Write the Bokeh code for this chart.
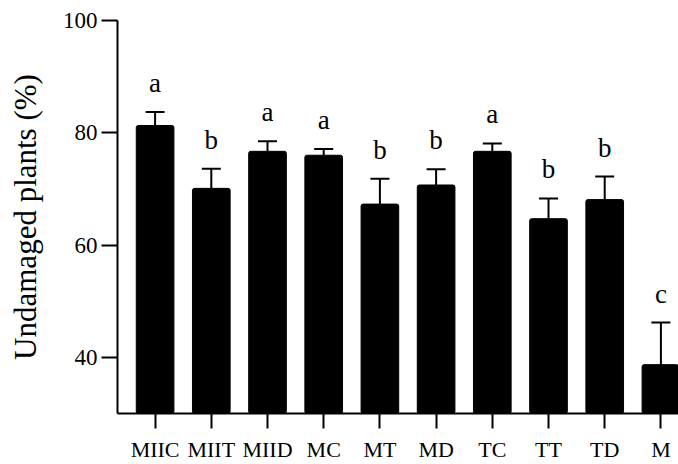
from bokeh.plotting import figure
from bokeh.models import FixedTicker, Whisker, ColumnDataSource, TeeHead, Range1d
from bokeh.core.properties import value
from bokeh.embed import file_html
from bokeh.resources import INLINE

categories = ["MIIC", "MIIT", "MIID", "MC", "MT", "MD", "TC", "TT", "TD", "M"]
means = [81.3, 70.1, 76.7, 76.0, 67.3, 70.7, 76.7, 64.7, 68.1, 38.7]
errors = [2.4, 3.5, 1.8, 1.1, 4.5, 2.8, 1.4, 3.6, 4.1, 7.5]
letters = ["a", "b", "a", "a", "b", "b", "a", "b", "b", "c"]
y_ticks = [40, 60, 80, 100]

FONT = "Liberation Serif"

xs = list(range(len(categories)))
upper = [m + e for m, e in zip(means, errors)]
src = ColumnDataSource(dict(x=xs, mean=means, upper=upper, letter=letters))

p = figure(width=678, height=464,
           x_range=Range1d(-0.669, 9.313), y_range=Range1d(30, 100),
           output_backend="svg", toolbar_location=None,
           min_border_left=117, min_border_right=0,
           min_border_top=20, min_border_bottom=51)
p.outline_line_color = None
p.xgrid.grid_line_color = None
p.ygrid.grid_line_color = None
p.background_fill_color = "white"
p.border_fill_color = "white"

p.vbar(x="x", top="mean", bottom=0, width=0.67, source=src,
       fill_color="black", line_color="black", border_radius=2)

w = Whisker(base="x", upper="upper", lower="mean", source=src,
            line_color="black", line_width=2, lower_head=None,
            upper_head=TeeHead(size=19, line_color="black", line_width=2))
p.add_layout(w)

p.text(x="x", y="upper", text="letter", source=src, y_offset=-29,
       text_align="center", text_baseline="alphabetic",
       text_font=value(FONT), text_font_size="27px", text_color="black")

for ax in (p.xaxis[0], p.yaxis[0]):
    ax.axis_line_color = "black"
    ax.axis_line_width = 2
    ax.major_tick_line_color = "black"
    ax.major_tick_line_width = 2
    ax.major_tick_in = 0
    ax.minor_tick_line_color = None
    ax.major_label_text_font = FONT
    ax.major_label_text_color = "black"

p.yaxis.ticker = FixedTicker(ticks=y_ticks)
p.yaxis.major_tick_out = 16
p.yaxis.major_label_text_font_size = "23px"
p.yaxis.major_label_standoff = 4
p.yaxis.axis_label = "Undamaged plants (%)"
p.yaxis.axis_label_text_font = FONT
p.yaxis.axis_label_text_font_size = "31px"
p.yaxis.axis_label_text_font_style = "normal"
p.yaxis.axis_label_text_color = "black"
p.yaxis.axis_label_standoff = 17

p.xaxis.ticker = FixedTicker(ticks=xs)
p.xaxis.major_label_overrides = {i: c for i, c in zip(xs, categories)}
p.xaxis.major_tick_out = 15
p.xaxis.major_label_text_font_size = "22px"
p.xaxis.major_label_standoff = 8

open("out.html", "w").write(file_html(p, INLINE))
